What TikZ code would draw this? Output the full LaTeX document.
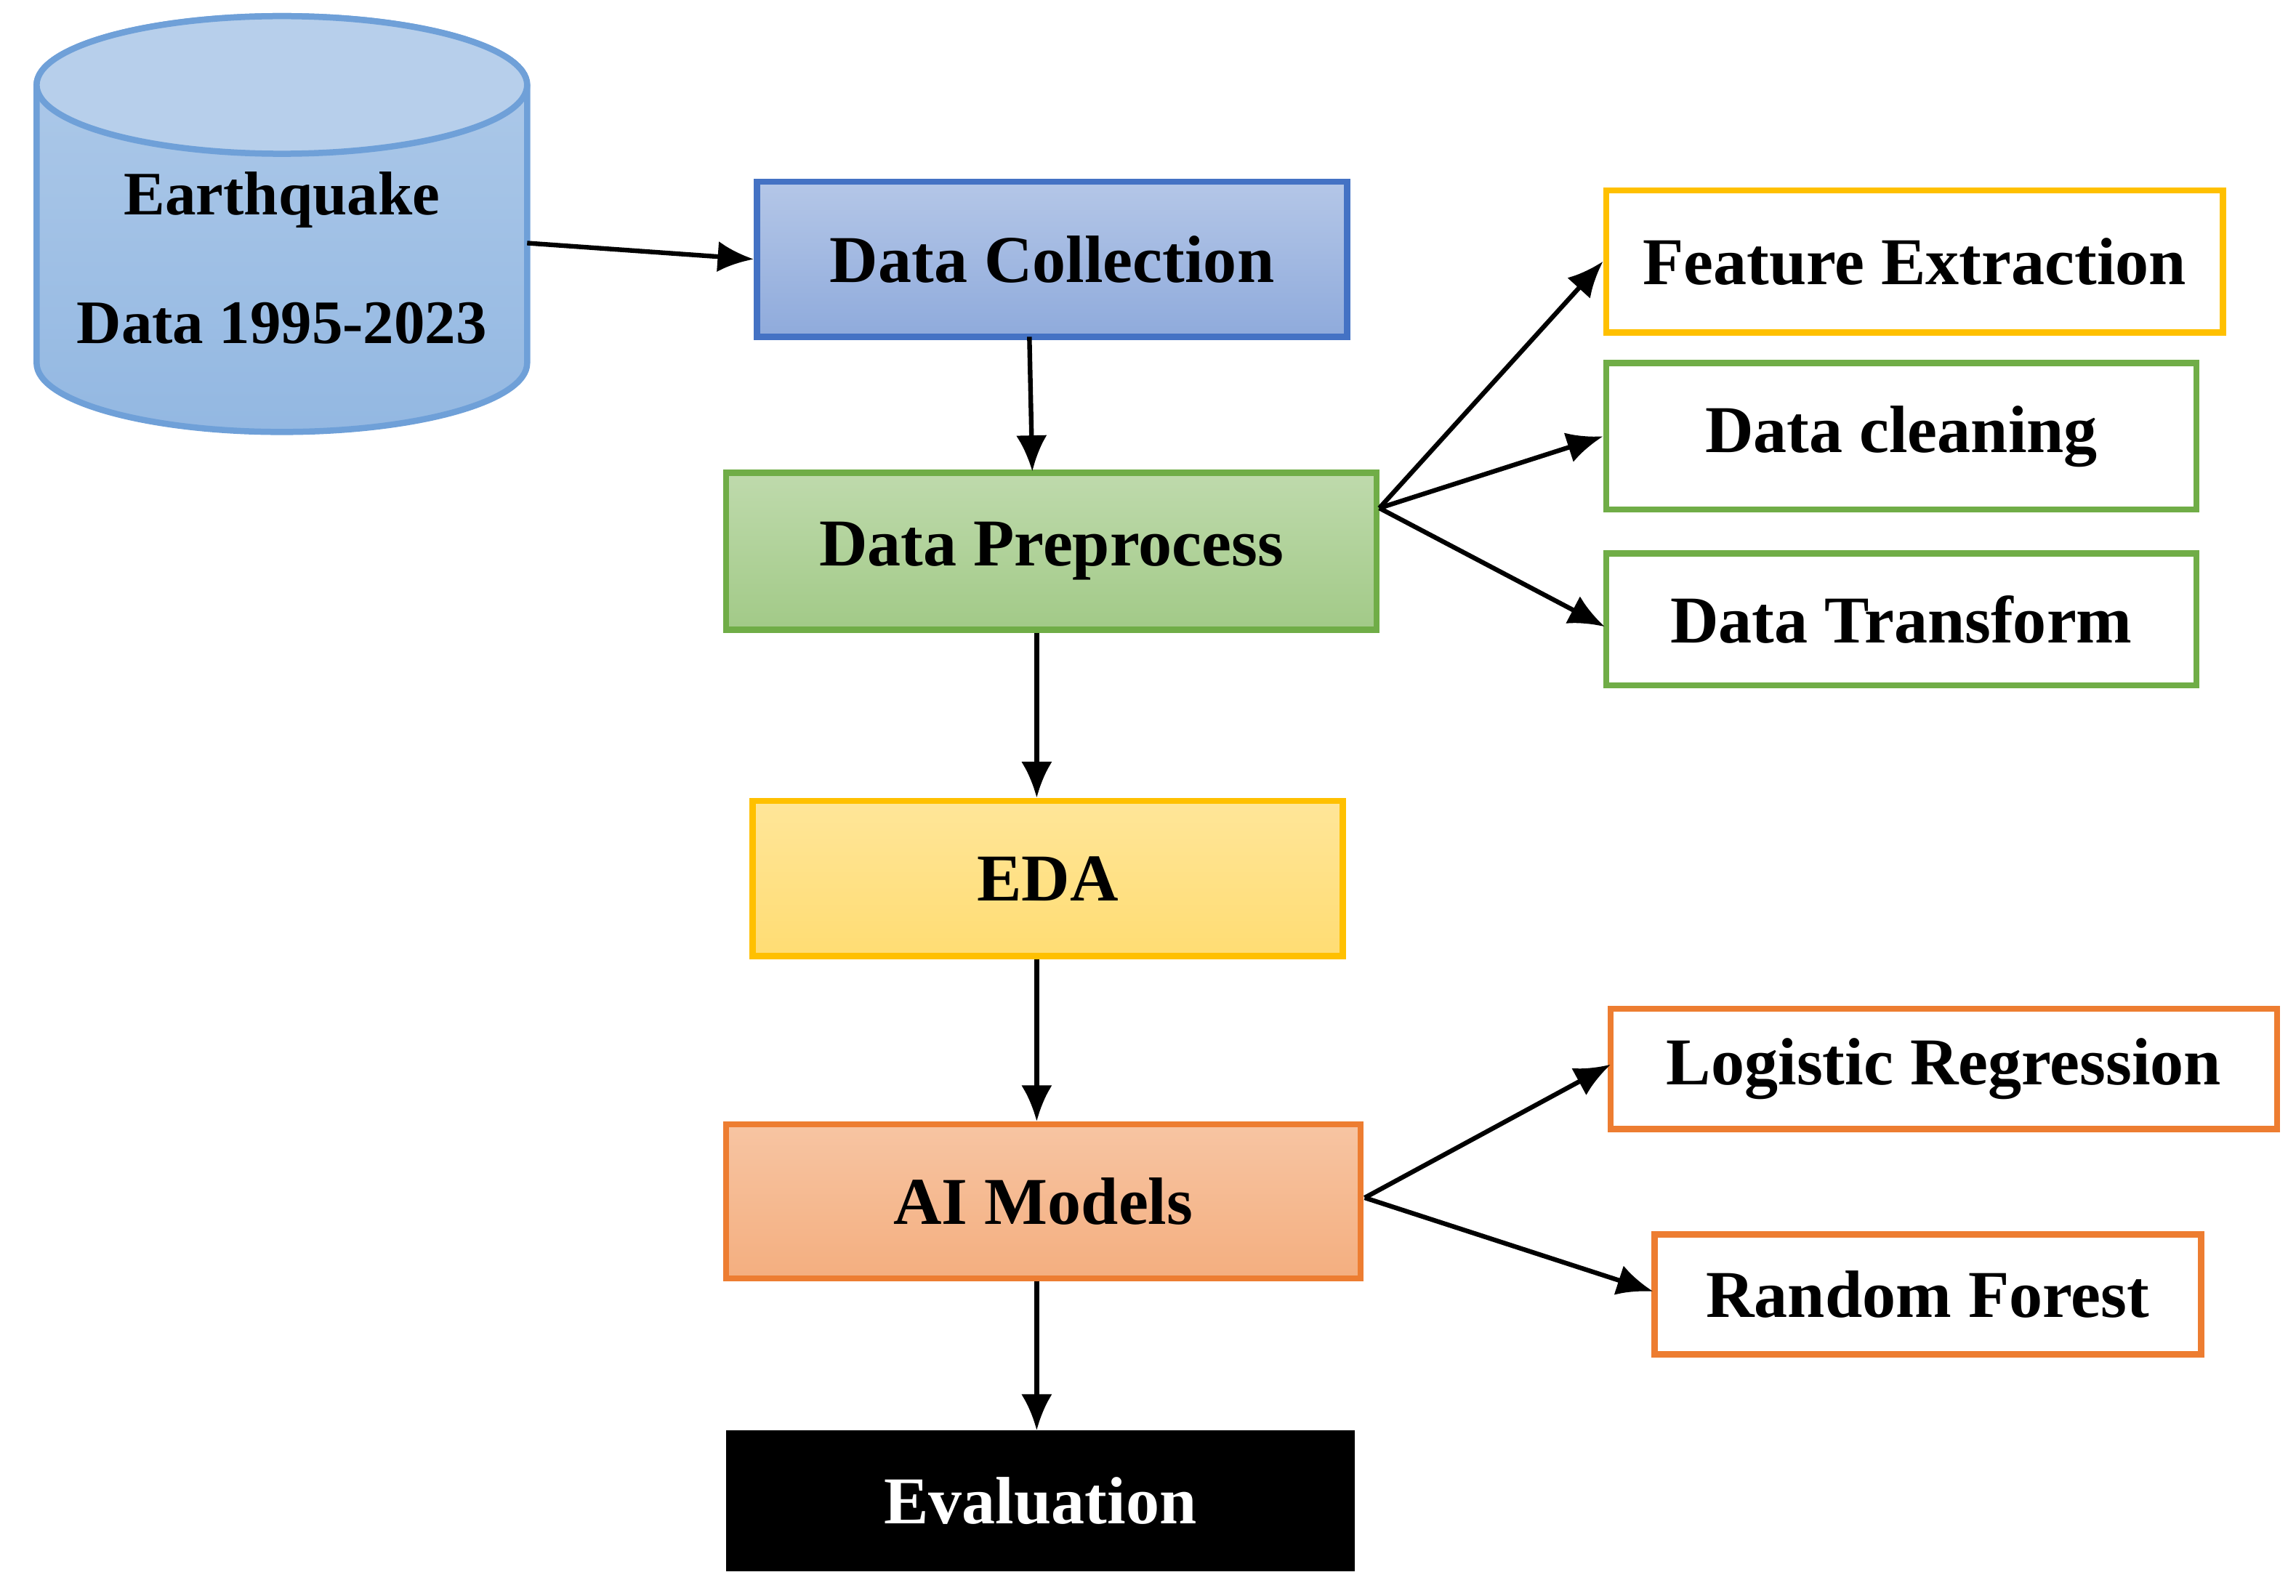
\documentclass[tikz,border=0pt]{standalone}
\usepackage{fontspec}
\setmainfont{Liberation Serif}
\usetikzlibrary{arrows.meta,positioning}
\definecolor{bdblue}{HTML}{4472C4}
\definecolor{bdgreen}{HTML}{70AD47}
\definecolor{bdyellow}{HTML}{FFC000}
\definecolor{bdorange}{HTML}{ED7D31}
\definecolor{cylb}{HTML}{6FA0D8}
\tikzset{
  box/.style={draw, line width=1.2pt, inner sep=0pt, font=\fontsize{13}{15}\selectfont\bfseries},
  arr/.style={-{Latex[length=7pt,width=6pt]}, line width=0.9pt},
}
\begin{document}
\begin{tikzpicture}[x=0.01cm,y=0.01cm]
\useasboundingbox (0,0) rectangle (1568,-1090);
% cylinder
\path[top color=cylb!55!white, bottom color=cylb!75!white, draw=cylb, line width=1.2pt]
  (25,-58) -- (25,-248) arc[start angle=180,end angle=360,x radius=167.5,y radius=47] -- (360,-58)
  arc[start angle=0,end angle=180,x radius=167.5,y radius=47] -- cycle;
\draw[cylb, line width=1.2pt, fill=cylb!50!white] (192.5,-58) ellipse[x radius=167.5,y radius=47];
\node[font=\fontsize{12}{15}\selectfont\bfseries, align=center] (cyl) at (192.5,-176) {Earthquake\\[10pt]Data 1995-2023};
\coordinate (cylE) at (360,-166);
% main boxes
\node[box, draw=bdblue, top color=bdblue!40!white, bottom color=bdblue!60!white, minimum width=403\pgflinewidth*0+4.03cm, minimum height=1.06cm] (dc) at (718.5,-177) {Data Collection};
\node[box, draw=bdgreen, top color=bdgreen!45!white, bottom color=bdgreen!65!white, minimum width=4.44cm, minimum height=1.07cm] (dp) at (718,-376.5) {Data Preprocess};
\node[box, draw=bdyellow, top color=bdyellow!40!white, bottom color=bdyellow!55!white, minimum width=4.03cm, minimum height=1.06cm] (eda) at (715.5,-600) {EDA};
\node[box, draw=bdorange, top color=bdorange!45!white, bottom color=bdorange!62!white, minimum width=4.33cm, minimum height=1.05cm] (ai) at (712.5,-820.5) {AI Models};
\node[box, draw=black, fill=black, text=white, minimum width=4.25cm, minimum height=0.92cm] (ev) at (710.5,-1025) {Evaluation};
% side boxes
\node[box, draw=bdyellow, fill=white, minimum width=4.21cm, minimum height=0.97cm] (fe) at (1307.5,-178.5) {Feature Extraction};
\node[box, draw=bdgreen, fill=white, minimum width=4.03cm, minimum height=1.0cm] (cl) at (1298.5,-298) {Data cleaning};
\node[box, draw=bdgreen, fill=white, minimum width=4.03cm, minimum height=0.9cm] (dt) at (1298.5,-423) {Data Transform};
\node[box, draw=bdorange, fill=white, minimum width=4.55cm, minimum height=0.82cm] (lr) at (1327.5,-730) {Logistic Regression};
\node[box, draw=bdorange, fill=white, minimum width=3.73cm, minimum height=0.82cm] (rf) at (1316.5,-884) {Random Forest};
% connectors
\draw[arr] (cylE) -- (dc.west);
\draw[arr] (703,-230) -- (705,-322);
\draw[arr] (dp.south -| 708,0) -- (eda.north -| 708,0);
\draw[arr] (eda.south -| 708,0) -- (ai.north -| 708,0);
\draw[arr] (ai.south -| 708,0) -- (ev.north -| 708,0);
\coordinate (dpE) at (942,-347);
\draw[arr] (dpE) -- (fe.west);
\draw[arr] (dpE) -- (cl.west);
\draw[arr] (dpE) -- (1096,-428);
\coordinate (aiE) at (932,-818);
\draw[arr] (aiE) -- (1100,-727);
\draw[arr] (aiE) -- (1129,-882);
\end{tikzpicture}
\end{document}
